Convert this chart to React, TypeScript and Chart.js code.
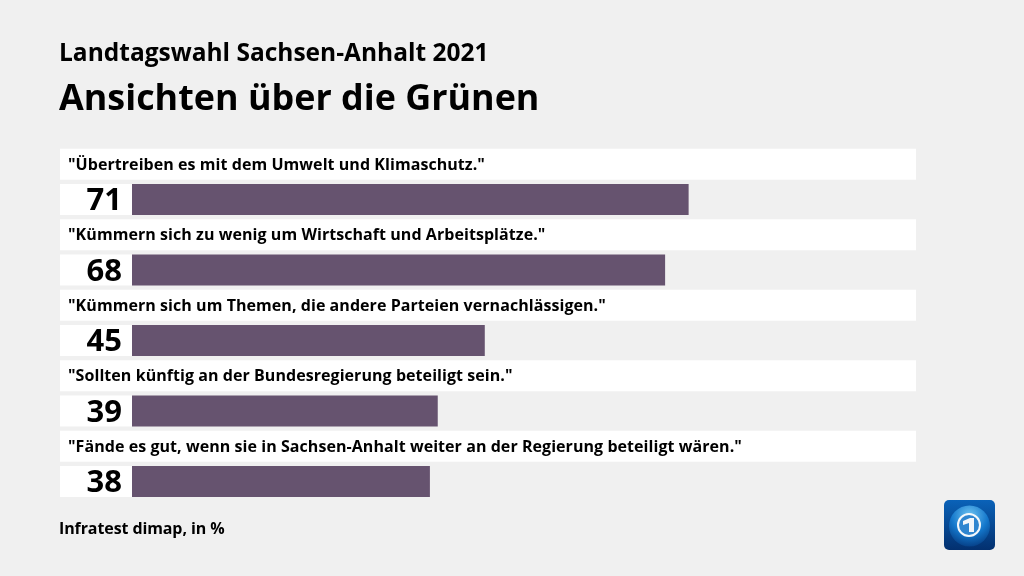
import React, { useEffect, useRef } from "react";
import { Chart, registerables } from "chart.js";

Chart.register(...registerables);

const suptitle = "Landtagswahl Sachsen-Anhalt 2021";
const title = "Ansichten über die Grünen";
const source = "Infratest dimap, in %";
const statements = [
  '"Übertreiben es mit dem Umwelt und Klimaschutz."',
  '"Kümmern sich zu wenig um Wirtschaft und Arbeitsplätze."',
  '"Kümmern sich um Themen, die andere Parteien vernachlässigen."',
  '"Sollten künftig an der Bundesregierung beteiligt sein."',
  '"Fände es gut, wenn sie in Sachsen-Anhalt weiter an der Regierung beteiligt wären."',
];
const values = [71, 68, 45, 39, 38];
const axisMin = -9.18;
const axisMax = 100;
const FONT = '"Open Sans", "Noto Sans", sans-serif';

const rowPlugin = {
  id: "rowText",
  afterDatasetsDraw(chart: any) {
    const { ctx, scales } = chart;
    const x = scales.x;
    const rows = chart.getDatasetMeta(0).data;
    const bars = chart.getDatasetMeta(1).data;
    ctx.save();
    ctx.textBaseline = "middle";
    statements.forEach((s: string, i: number) => {
      ctx.fillStyle = "#000";
      ctx.textAlign = "left";
      ctx.font = `700 16px ${FONT}`;
      (ctx as any).letterSpacing = "0.06px";
      ctx.fillText(s, x.getPixelForValue(axisMin) + 8, rows[i].y + 1);
      const b = bars[i];
      ctx.fillStyle = "#fff";
      ctx.fillRect(x.getPixelForValue(axisMin), b.y - 15.5, x.getPixelForValue(0) - x.getPixelForValue(axisMin), 31);
      ctx.fillStyle = "#000";
      ctx.textAlign = "right";
      (ctx as any).letterSpacing = "0px";
      ctx.font = `700 31px ${FONT}`;
      ctx.fillText(String(values[i]), x.getPixelForValue(0) - 10, b.y + 2);
    });
    ctx.restore();
  },
};

export default function App() {
  const ref = useRef<HTMLCanvasElement>(null);
  useEffect(() => {
    const chart = new Chart(ref.current as HTMLCanvasElement, {
      type: "bar",
      data: {
        labels: statements,
        datasets: [
          {
            label: "Aussage",
            data: statements.map(() => [axisMin, axisMax]) as any,
            backgroundColor: "#ffffff",
            borderWidth: 0,
          },
          {
            label: "Zustimmung",
            data: values,
            backgroundColor: "#66536f",
            borderWidth: 0,
          },
        ],
      },
      options: {
        indexAxis: "y",
        responsive: false,
        animation: false,
        layout: { padding: { left: 60, right: 108, top: 146.6, bottom: 76.9 } },
        datasets: { bar: { categoryPercentage: 1, barPercentage: 0.88 } },
        scales: {
          x: { display: false, min: axisMin, max: axisMax },
          y: { display: false },
        },
        plugins: { legend: { display: false }, tooltip: { enabled: false }, title: { display: false } },
      },
      plugins: [rowPlugin],
    });
    return () => chart.destroy();
  }, []);

  return (
    <div style={{ position: "absolute", left: 0, top: 0, width: 1024, height: 576, background: "#f0f0f0", overflow: "hidden", fontFamily: FONT, color: "#000" }}>
      <canvas ref={ref} width={1024} height={576} style={{ position: "absolute", left: 0, top: 0, display: "block" }} />
      <div style={{ position: "absolute", left: 59, top: 35, fontSize: 24.5, fontWeight: 700, lineHeight: "34px", whiteSpace: "nowrap" }}>{suptitle}</div>
      <div style={{ position: "absolute", left: 59, top: 71, fontSize: 35.9, fontWeight: 700, lineHeight: "52px", whiteSpace: "nowrap" }}>{title}</div>
      <div style={{ position: "absolute", left: 59, top: 516, fontSize: 16, fontWeight: 700, lineHeight: "24px", whiteSpace: "nowrap", letterSpacing: -0.1 }}>{source}</div>
      <svg style={{ position: "absolute", left: 944, top: 500 }} width={51} height={50} viewBox="0 0 51 50">
        <defs>
          <linearGradient id="bg" x1="0" y1="0" x2="0" y2="1">
            <stop offset="0" stopColor="#0a62b8" />
            <stop offset="1" stopColor="#03306f" />
          </linearGradient>
          <radialGradient id="globe" cx="0.5" cy="0.25" r="0.8">
            <stop offset="0" stopColor="#6fc4f2" />
            <stop offset="0.55" stopColor="#1478cc" />
            <stop offset="1" stopColor="#04397f" />
          </radialGradient>
        </defs>
        <rect width={51} height={50} rx={5} fill="url(#bg)" />
        <circle cx={25.5} cy={26} r={20.5} fill="url(#globe)" />
        <circle cx={25} cy={25} r={11} fill="#2f86d0" stroke="#f4f8fb" strokeWidth={2} />
        <path d="M19 21 L26 18 L30 18 L30 32 L25 32 L25 23 L19 25 Z" fill="#f2f6fa" />
      </svg>
    </div>
  );
}
